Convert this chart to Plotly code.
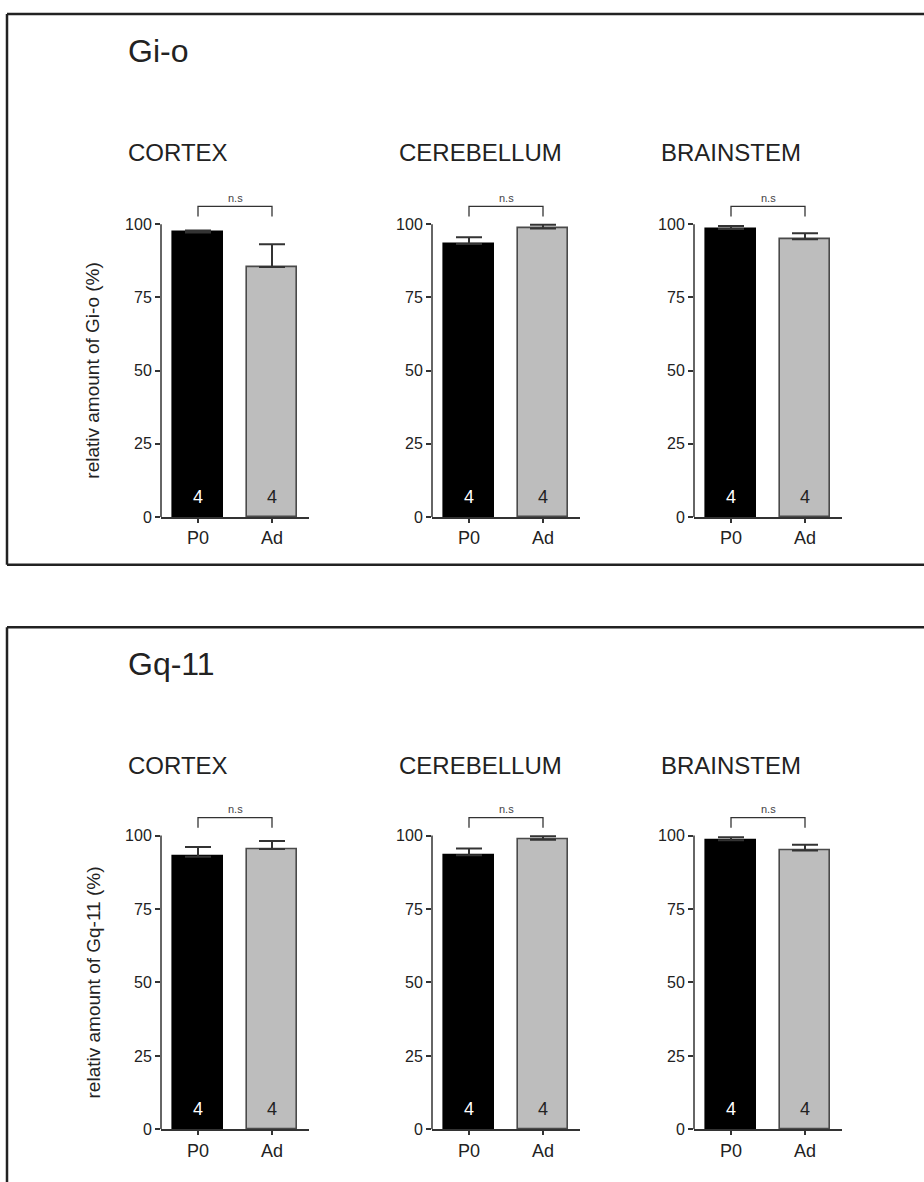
import plotly.graph_objects as go

# ---- data ----
regions = ["CORTEX", "CEREBELLUM", "BRAINSTEM"]
groups = ["P0", "Ad"]

gio_p0 = [97.2, 93.3, 98.4]
gio_p0_err = [0.7, 2.3, 1.0]
gio_ad = [85.4, 98.6, 94.9]
gio_ad_err = [7.8, 1.2, 2.0]

gq_p0 = [92.8, 93.3, 98.4]
gq_p0_err = [3.3, 2.3, 1.0]
gq_ad = [95.4, 98.6, 94.9]
gq_ad_err = [2.8, 1.2, 2.0]

n_counts = [4, 4]
y_ticks = [0, 25, 50, 75, 100]
sig_label = "n.s"

# ---- layout constants (pixels) ----
W, H = 924, 1182
FONT = "Liberation Sans, Arial, sans-serif"
INK = "#222222"
AXIS = "#333333"
GREY = "#bdbdbd"
x_px = [(161, 309), (432, 580), (694, 842)]
Y_TOP = 112  # headroom above 100 for the significance bracket

blocks = [
    dict(name="Gi-o", p0=gio_p0, p0e=gio_p0_err, ad=gio_ad, ade=gio_ad_err,
         base=521, scale=2.95, frame_top=14, frame_bottom=569),
    dict(name="Gq-11", p0=gq_p0, p0e=gq_p0_err, ad=gq_ad, ade=gq_ad_err,
         base=1138, scale=2.96, frame_top=632, frame_bottom=None),
]


def px(x):
    return x / W


def py(y):
    return 1 - y / H


fig = go.Figure()
shapes, annotations = [], []
layout_axes = {}
k = 0
for b in blocks:
    y_dom = [py(b["base"]), py(b["base"] - Y_TOP * b["scale"])]
    for j, region in enumerate(regions):
        k += 1
        xa, ya = ("x" if k == 1 else f"x{k}"), ("y" if k == 1 else f"y{k}")
        xkey, ykey = ("xaxis" if k == 1 else f"xaxis{k}"), ("yaxis" if k == 1 else f"yaxis{k}")
        layout_axes[xkey] = dict(
            domain=[px(x_px[j][0]), px(x_px[j][1])], anchor=ya,
            type="category", range=[-0.5, 1.5], showline=True, linecolor=AXIS,
            linewidth=1.5, ticks="outside", ticklen=4, tickwidth=1.5, tickcolor=AXIS,
            showgrid=False, zeroline=False,
            tickfont=dict(family=FONT, size=18, color=INK), fixedrange=True,
        )
        layout_axes[ykey] = dict(
            domain=y_dom, anchor=xa, range=[0, Y_TOP], showline=False,
            tickvals=y_ticks, ticks="outside", ticklen=5, tickwidth=1.5,
            tickcolor=AXIS, showgrid=False, zeroline=False,
            tickfont=dict(family=FONT, size=16, color=INK), fixedrange=True,
        )
        vals = [b["p0"][j], b["ad"][j]]
        errs = [b["p0e"][j], b["ade"][j]]
        fig.add_trace(go.Bar(
            x=groups, y=vals, width=0.68, xaxis=xa, yaxis=ya,
            marker=dict(color=["#000000", GREY],
                        line=dict(color=["#000000", "#4a4a4a"], width=1.6)),
            error_y=dict(type="data", symmetric=False, array=errs,
                         arrayminus=[0, 0], color=AXIS, thickness=2, width=13),
            showlegend=False, hoverinfo="skip",
        ))
        # significance bracket between the two bars
        fig.add_trace(go.Scatter(
            x=[groups[0], groups[0], groups[1], groups[1]],
            y=[102.7, 106.1, 106.1, 102.7], mode="lines",
            line=dict(color=AXIS, width=1.3), xaxis=xa, yaxis=ya,
            showlegend=False, hoverinfo="skip",
        ))
        annotations.append(dict(
            x=0.5, y=109, xref=xa, yref=ya, text=sig_label, showarrow=False,
            font=dict(family=FONT, size=11, color="#444444"),
        ))
        # group sizes inside the bars
        for g, n, c in zip(groups, n_counts, ["#ffffff", INK]):
            annotations.append(dict(
                x=g, y=7, xref=xa, yref=ya, text=str(n), showarrow=False,
                font=dict(family=FONT, size=18, color=c),
            ))
        # vertical axis line, stopping at 100
        shapes.append(dict(
            type="line", xref=f"{xa} domain", yref=ya, x0=0, x1=0, y0=0, y1=100,
            line=dict(color=AXIS, width=1.5),
        ))
        # region heading
        annotations.append(dict(
            x=px(x_px[j][0] - 35), y=py(b["frame_top"] + 139.5), xref="paper",
            yref="paper", xanchor="left", yanchor="middle", text=region,
            showarrow=False, font=dict(family=FONT, size=24, color=INK),
        ))
    # block title and y-axis title
    annotations.append(dict(
        x=px(126), y=py(b["frame_top"] + 37), xref="paper", yref="paper",
        xanchor="left", yanchor="middle", text=b["name"], showarrow=False,
        font=dict(family=FONT, size=32, color=INK),
    ))
    annotations.append(dict(
        x=px(93), y=py(b["base"] - 50 * b["scale"]), xref="paper", yref="paper",
        xanchor="center", yanchor="middle", textangle=-90,
        text=f"relativ amount of {b['name']} (%)", showarrow=False,
        font=dict(family=FONT, size=19, color=INK),
    ))
    # panel frame
    ft = b["frame_top"]
    shapes.append(dict(type="line", xref="paper", yref="paper", x0=px(7), x1=1.02,
                       y0=py(ft), y1=py(ft), line=dict(color=INK, width=2.5)))
    fb = b["frame_bottom"] if b["frame_bottom"] is not None else H + 10
    shapes.append(dict(type="line", xref="paper", yref="paper", x0=px(7), x1=px(7),
                       y0=py(ft), y1=py(fb), line=dict(color=INK, width=2.5)))
    if b["frame_bottom"] is not None:
        shapes.append(dict(type="line", xref="paper", yref="paper", x0=px(7), x1=1.02,
                           y0=py(fb), y1=py(fb), line=dict(color=INK, width=2.5)))

fig.update_layout(
    width=W, height=H, margin=dict(l=0, r=0, t=0, b=0),
    paper_bgcolor="white", plot_bgcolor="white",
    shapes=shapes, annotations=annotations, bargap=0, showlegend=False,
    **layout_axes,
)
fig.write_html("out.html")
